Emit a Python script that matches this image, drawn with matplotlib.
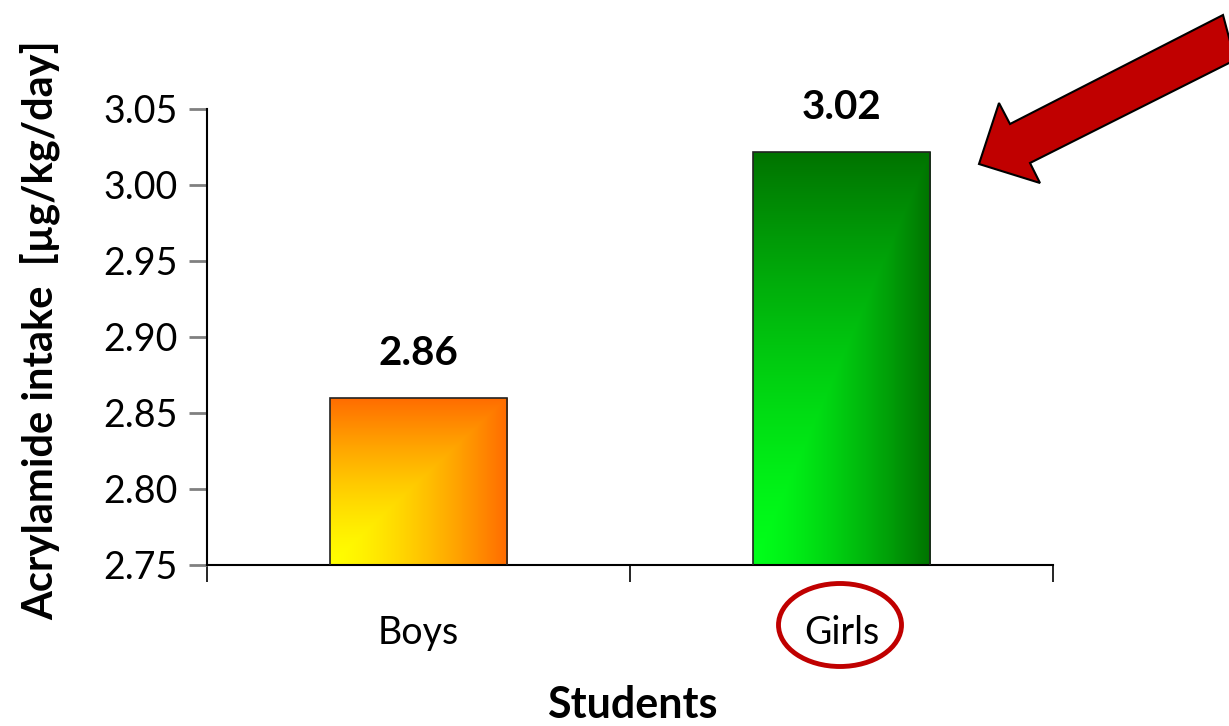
import numpy as np
import matplotlib.pyplot as plt
from matplotlib.patches import Polygon, Ellipse

plt.rcParams['font.family'] = ['Lato', 'DejaVu Sans']

# data
categories = ['Boys', 'Girls']
values = [2.86, 3.022]
value_labels = ['2.86', '3.02']
yticks = [2.75, 2.80, 2.85, 2.90, 2.95, 3.00, 3.05]

# gradient colours: bottom-left -> top/right
grad_colors = [((1.0, 1.0, 0.0), (1.0, 0.42, 0.0)),
               ((0.0, 1.0, 0.1), (0.0, 0.45, 0.0))]

W, H = 1229, 726
fig = plt.figure(figsize=(W / 100, H / 100), dpi=100)
ax = fig.add_axes([207 / W, 1 - 565 / H, (1053 - 207) / W, (565 - 109) / H])

x = np.arange(len(categories))
bars = ax.bar(x, values, width=0.42, bottom=0, color='none',
              edgecolor='#222222', linewidth=1.2, zorder=3)

# gradient fill in each bar
n = 200
gx, gy = np.meshgrid(np.linspace(0, 1, n), np.linspace(0, 1, n))
t = np.maximum(gx, gy) ** 1.4
for b, (c0, c1) in zip(bars, grad_colors):
    c0 = np.array(c0)
    c1 = np.array(c1)
    img = c0[None, None, :] * (1 - t[..., None]) + c1[None, None, :] * t[..., None]
    x0 = b.get_x()
    ext = [x0, x0 + b.get_width(), 2.75, b.get_height()]
    im = ax.imshow(img, extent=ext, origin='lower', aspect='auto', zorder=2)
    im.set_clip_path(b)

for xi, v, lab in zip(x, values, value_labels):
    ax.text(xi, v + 0.017, lab, ha='center', va='bottom', fontsize=29,
            fontweight='bold')

ax.set_xlim(-0.5, 1.5)
ax.set_ylim(2.75, 3.05)
ax.set_yticks(yticks)
ax.set_yticklabels(['%.2f' % v for v in yticks], fontsize=27)
ax.set_xticks([-0.5, 0.5, 1.5])
ax.set_xticklabels([])
ax.tick_params(axis='x', length=12, width=1.2, color='black')
ax.tick_params(axis='y', length=13, width=2, color='#808080', pad=8)
for i, c in enumerate(categories):
    ax.text(i, -0.15, c, transform=ax.get_xaxis_transform(), ha='center',
            va='center', fontsize=27)

for s in ['top', 'right']:
    ax.spines[s].set_visible(False)
for s in ['left', 'bottom']:
    ax.spines[s].set_linewidth(1.5)

fig.text(632 / W, 1 - 705 / H, 'Students', ha='center', va='center',
         fontsize=31, fontweight='bold')
fig.text(40 / W, 1 - 330 / H, 'Acrylamide intake  [µg/kg/day]', ha='center',
         va='center', rotation=90, fontsize=30, fontweight='bold')

# red arrow pointing at Girls bar
arrow_px = [(1223, 15), (1010, 124), (999, 103), (979, 164),
            (1040, 183), (1030, 163), (1235, 60)]
arrow_pts = [(px / W, 1 - py / H) for px, py in arrow_px]
fig.patches.append(Polygon(arrow_pts, closed=True, facecolor='#C00000',
                           edgecolor='black', linewidth=1.5,
                           transform=fig.transFigure))

# circle around Girls
fig.patches.append(Ellipse((840 / W, 1 - 625 / H), 123 / W, 83 / H,
                           facecolor='none', edgecolor='#C00000',
                           linewidth=3.5, transform=fig.transFigure))

fig.savefig('out.png', dpi=100)
